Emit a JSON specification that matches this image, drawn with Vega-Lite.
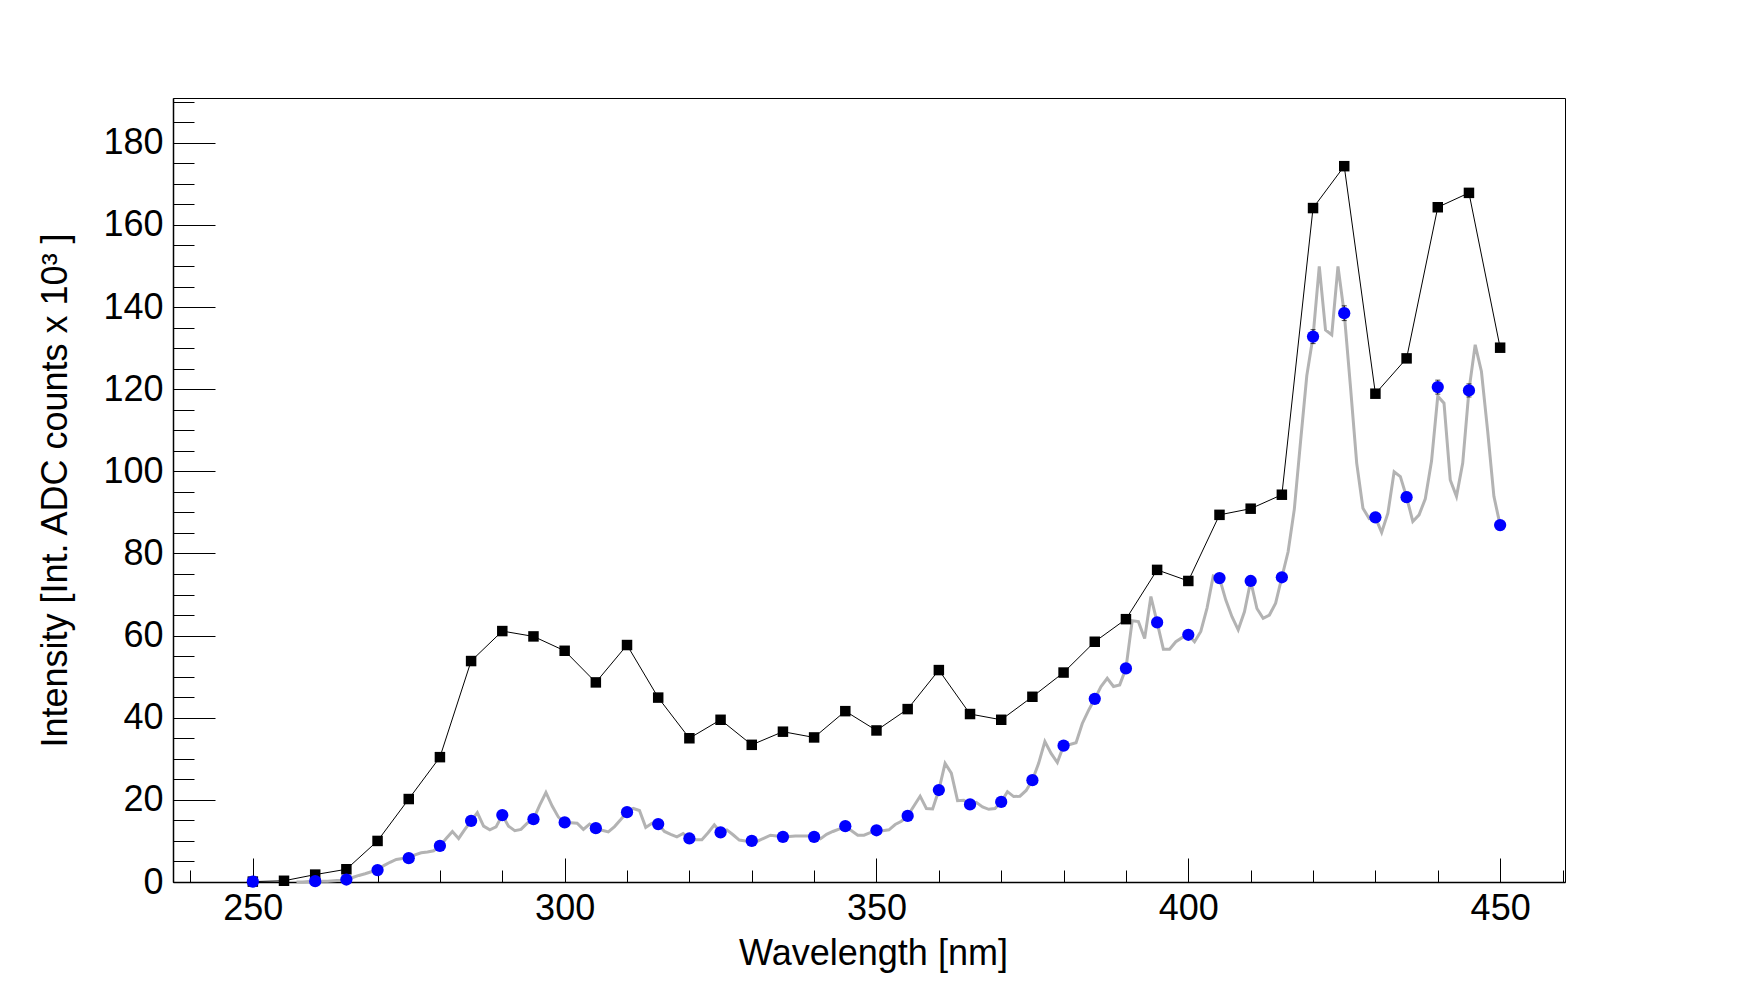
{
  "$schema": "https://vega.github.io/schema/vega-lite/v6.json",
  "width": 1392,
  "height": 784,
  "autosize": {"type": "none"},
  "padding": {"left": 173, "top": 98, "right": 174, "bottom": 99},
  "background": "white",
  "datasets": {
    "spectrum": [
      {"nm": 257, "v": 0}, {"nm": 258, "v": 0}, {"nm": 259, "v": 0.1}, {"nm": 260, "v": 0.2},
      {"nm": 261, "v": 0.2}, {"nm": 262, "v": 0.2}, {"nm": 263, "v": 0.3}, {"nm": 264, "v": 0.4},
      {"nm": 265, "v": 0.6}, {"nm": 266, "v": 1.1}, {"nm": 267, "v": 1.6}, {"nm": 268, "v": 2.0},
      {"nm": 269, "v": 2.5}, {"nm": 270, "v": 2.9}, {"nm": 271, "v": 4.0}, {"nm": 272, "v": 4.8},
      {"nm": 273, "v": 5.5}, {"nm": 274, "v": 5.7}, {"nm": 275, "v": 5.8}, {"nm": 276, "v": 6.6},
      {"nm": 277, "v": 7.1}, {"nm": 278, "v": 7.3}, {"nm": 279, "v": 7.6}, {"nm": 280, "v": 8.8},
      {"nm": 281, "v": 10.6}, {"nm": 282, "v": 12.3}, {"nm": 283, "v": 10.6}, {"nm": 284, "v": 12.8},
      {"nm": 285, "v": 14.9}, {"nm": 286, "v": 16.9}, {"nm": 287, "v": 13.6}, {"nm": 288, "v": 12.7},
      {"nm": 289, "v": 13.4}, {"nm": 290, "v": 16.3}, {"nm": 291, "v": 13.6}, {"nm": 292, "v": 12.5},
      {"nm": 293, "v": 12.8}, {"nm": 294, "v": 14.3}, {"nm": 295, "v": 15.3}, {"nm": 296, "v": 18.7},
      {"nm": 297, "v": 21.8}, {"nm": 298, "v": 18.5}, {"nm": 299, "v": 15.8}, {"nm": 300, "v": 14.5},
      {"nm": 301, "v": 14.4}, {"nm": 302, "v": 14.3}, {"nm": 303, "v": 12.8}, {"nm": 304, "v": 14.1},
      {"nm": 305, "v": 13.1}, {"nm": 306, "v": 12.6}, {"nm": 307, "v": 12.2}, {"nm": 308, "v": 13.5},
      {"nm": 309, "v": 15.2}, {"nm": 310, "v": 17.0}, {"nm": 311, "v": 17.9}, {"nm": 312, "v": 17.4},
      {"nm": 313, "v": 13.3}, {"nm": 314, "v": 14.3}, {"nm": 315, "v": 14.1}, {"nm": 316, "v": 12.3},
      {"nm": 317, "v": 11.6}, {"nm": 318, "v": 11.0}, {"nm": 319, "v": 11.8}, {"nm": 320, "v": 10.6},
      {"nm": 321, "v": 10.3}, {"nm": 322, "v": 10.3}, {"nm": 323, "v": 12.0}, {"nm": 324, "v": 13.9},
      {"nm": 325, "v": 12.1}, {"nm": 326, "v": 12.7}, {"nm": 327, "v": 11.5}, {"nm": 328, "v": 10.2},
      {"nm": 329, "v": 10.0}, {"nm": 330, "v": 10.0}, {"nm": 331, "v": 10.0}, {"nm": 332, "v": 10.7},
      {"nm": 333, "v": 11.4}, {"nm": 334, "v": 11.2}, {"nm": 335, "v": 11.0}, {"nm": 336, "v": 11.1},
      {"nm": 337, "v": 11.2}, {"nm": 338, "v": 11.2}, {"nm": 339, "v": 11.2}, {"nm": 340, "v": 11.0},
      {"nm": 341, "v": 10.5}, {"nm": 342, "v": 11.6}, {"nm": 343, "v": 12.3}, {"nm": 344, "v": 12.9},
      {"nm": 345, "v": 13.5}, {"nm": 346, "v": 12.5}, {"nm": 347, "v": 11.4}, {"nm": 348, "v": 11.4},
      {"nm": 349, "v": 12.0}, {"nm": 350, "v": 12.6}, {"nm": 351, "v": 12.5}, {"nm": 352, "v": 12.7},
      {"nm": 353, "v": 14.0}, {"nm": 354, "v": 14.8}, {"nm": 355, "v": 16.1}, {"nm": 356, "v": 18.5},
      {"nm": 357, "v": 20.9}, {"nm": 358, "v": 17.9}, {"nm": 359, "v": 17.8}, {"nm": 360, "v": 22.4},
      {"nm": 361, "v": 28.9}, {"nm": 362, "v": 26.5}, {"nm": 363, "v": 19.8}, {"nm": 364, "v": 19.9},
      {"nm": 365, "v": 18.9}, {"nm": 366, "v": 19.4}, {"nm": 367, "v": 18.3}, {"nm": 368, "v": 17.7},
      {"nm": 369, "v": 17.9}, {"nm": 370, "v": 19.5}, {"nm": 371, "v": 22.0}, {"nm": 372, "v": 20.8},
      {"nm": 373, "v": 20.9}, {"nm": 374, "v": 22.3}, {"nm": 375, "v": 24.8}, {"nm": 376, "v": 28.9},
      {"nm": 377, "v": 34.2}, {"nm": 378, "v": 31.3}, {"nm": 379, "v": 29.1}, {"nm": 380, "v": 33.2},
      {"nm": 381, "v": 33.5}, {"nm": 382, "v": 33.9}, {"nm": 383, "v": 38.6}, {"nm": 384, "v": 41.8},
      {"nm": 385, "v": 44.6}, {"nm": 386, "v": 47.6}, {"nm": 387, "v": 49.6}, {"nm": 388, "v": 47.6},
      {"nm": 389, "v": 48.0}, {"nm": 390, "v": 52.0}, {"nm": 391, "v": 63.6}, {"nm": 392, "v": 63.4},
      {"nm": 393, "v": 59.3}, {"nm": 394, "v": 69.5}, {"nm": 395, "v": 63.2}, {"nm": 396, "v": 56.7},
      {"nm": 397, "v": 56.7}, {"nm": 398, "v": 58.5}, {"nm": 399, "v": 59.5}, {"nm": 400, "v": 60.2},
      {"nm": 401, "v": 58.5}, {"nm": 402, "v": 61.0}, {"nm": 403, "v": 66.7}, {"nm": 404, "v": 74.5},
      {"nm": 405, "v": 74.0}, {"nm": 406, "v": 68.7}, {"nm": 407, "v": 64.6}, {"nm": 408, "v": 61.4},
      {"nm": 409, "v": 65.8}, {"nm": 410, "v": 73.3}, {"nm": 411, "v": 66.6}, {"nm": 412, "v": 64.2},
      {"nm": 413, "v": 65.0}, {"nm": 414, "v": 67.9}, {"nm": 415, "v": 74.2}, {"nm": 416, "v": 80.4},
      {"nm": 417, "v": 90.8}, {"nm": 418, "v": 107.3}, {"nm": 419, "v": 123.3}, {"nm": 420, "v": 132.8},
      {"nm": 421, "v": 149.9}, {"nm": 422, "v": 134.4}, {"nm": 423, "v": 133.2}, {"nm": 424, "v": 149.9},
      {"nm": 425, "v": 138.5}, {"nm": 426, "v": 120.6}, {"nm": 427, "v": 102.0}, {"nm": 428, "v": 91.0},
      {"nm": 429, "v": 88.5}, {"nm": 430, "v": 88.8}, {"nm": 431, "v": 85.1}, {"nm": 432, "v": 89.8},
      {"nm": 433, "v": 99.9}, {"nm": 434, "v": 98.7}, {"nm": 435, "v": 93.7}, {"nm": 436, "v": 87.8},
      {"nm": 437, "v": 89.4}, {"nm": 438, "v": 93.3}, {"nm": 439, "v": 102.5}, {"nm": 440, "v": 118.3},
      {"nm": 441, "v": 116.6}, {"nm": 442, "v": 97.9}, {"nm": 443, "v": 93.9}, {"nm": 444, "v": 102.0},
      {"nm": 445, "v": 119.7}, {"nm": 446, "v": 130.8}, {"nm": 447, "v": 124.3}, {"nm": 448, "v": 109.8},
      {"nm": 449, "v": 93.9}, {"nm": 450, "v": 86.9}
    ],
    "reference": [
      {"nm": 250, "v": 0.1}, {"nm": 255, "v": 0.3}, {"nm": 260, "v": 1.8}, {"nm": 265, "v": 3.1},
      {"nm": 270, "v": 10.0}, {"nm": 275, "v": 20.2}, {"nm": 280, "v": 30.4}, {"nm": 285, "v": 53.8},
      {"nm": 290, "v": 61.1}, {"nm": 295, "v": 59.8}, {"nm": 300, "v": 56.3}, {"nm": 305, "v": 48.6},
      {"nm": 310, "v": 57.7}, {"nm": 315, "v": 44.9}, {"nm": 320, "v": 35.0}, {"nm": 325, "v": 39.5},
      {"nm": 330, "v": 33.4}, {"nm": 335, "v": 36.6}, {"nm": 340, "v": 35.2}, {"nm": 345, "v": 41.6},
      {"nm": 350, "v": 36.9}, {"nm": 355, "v": 42.1}, {"nm": 360, "v": 51.6}, {"nm": 365, "v": 40.9},
      {"nm": 370, "v": 39.5}, {"nm": 375, "v": 45.1}, {"nm": 380, "v": 51.0}, {"nm": 385, "v": 58.5},
      {"nm": 390, "v": 64.0}, {"nm": 395, "v": 76.0}, {"nm": 400, "v": 73.3}, {"nm": 405, "v": 89.4},
      {"nm": 410, "v": 90.9}, {"nm": 415, "v": 94.3}, {"nm": 420, "v": 164.1}, {"nm": 425, "v": 174.3},
      {"nm": 430, "v": 118.9}, {"nm": 435, "v": 127.5}, {"nm": 440, "v": 164.3}, {"nm": 445, "v": 167.8},
      {"nm": 450, "v": 130.1}
    ],
    "measured": [
      {"nm": 250, "v": 0.1, "err": 0.1}, {"nm": 260, "v": 0.2, "err": 0.1}, {"nm": 265, "v": 0.6, "err": 0.1},
      {"nm": 270, "v": 2.9, "err": 0.2}, {"nm": 275, "v": 5.8, "err": 0.2}, {"nm": 280, "v": 8.8, "err": 0.3},
      {"nm": 285, "v": 14.9, "err": 0.4}, {"nm": 290, "v": 16.3, "err": 0.4}, {"nm": 295, "v": 15.3, "err": 0.4},
      {"nm": 300, "v": 14.5, "err": 0.4}, {"nm": 305, "v": 13.1, "err": 0.4}, {"nm": 310, "v": 17.0, "err": 0.4},
      {"nm": 315, "v": 14.1, "err": 0.4}, {"nm": 320, "v": 10.6, "err": 0.3}, {"nm": 325, "v": 12.1, "err": 0.3},
      {"nm": 330, "v": 10.0, "err": 0.3}, {"nm": 335, "v": 11.0, "err": 0.3}, {"nm": 340, "v": 11.0, "err": 0.3},
      {"nm": 345, "v": 13.6, "err": 0.4}, {"nm": 350, "v": 12.6, "err": 0.4}, {"nm": 355, "v": 16.1, "err": 0.4},
      {"nm": 360, "v": 22.4, "err": 0.5}, {"nm": 365, "v": 18.9, "err": 0.5}, {"nm": 370, "v": 19.5, "err": 0.5},
      {"nm": 375, "v": 24.8, "err": 0.5}, {"nm": 380, "v": 33.2, "err": 0.6}, {"nm": 385, "v": 44.6, "err": 0.7},
      {"nm": 390, "v": 52.0, "err": 0.8}, {"nm": 395, "v": 63.2, "err": 0.9}, {"nm": 400, "v": 60.2, "err": 0.9},
      {"nm": 405, "v": 74.0, "err": 1.0}, {"nm": 410, "v": 73.3, "err": 1.0}, {"nm": 415, "v": 74.2, "err": 1.0},
      {"nm": 420, "v": 132.8, "err": 1.7}, {"nm": 425, "v": 138.5, "err": 1.8}, {"nm": 430, "v": 88.8, "err": 1.2},
      {"nm": 435, "v": 93.7, "err": 1.2}, {"nm": 440, "v": 120.5, "err": 1.7}, {"nm": 445, "v": 119.7, "err": 1.6},
      {"nm": 450, "v": 86.9, "err": 1.1}
    ]
  },
  "encoding": {
    "x": {
      "field": "nm",
      "type": "quantitative",
      "scale": {"domain": [237.2, 460.4], "nice": false, "zero": false},
      "axis": {
        "title": "Wavelength [nm]",
        "values": [240, 250, 260, 270, 280, 290, 300, 310, 320, 330, 340, 350, 360, 370, 380, 390, 400, 410, 420, 430, 440, 450, 460],
        "labelExpr": "datum.value % 50 === 0 ? datum.label : ''",
        "tickSize": {"condition": {"test": "datum.value % 50 === 0", "value": -24}, "value": -12},
        "labelPadding": 33,
        "labelBaseline": "top",
        "titleX": 700,
        "titleY": 82,
        "titleBaseline": "alphabetic",
        "titleAnchor": "middle"
      }
    },
    "y": {
      "field": "v",
      "type": "quantitative",
      "scale": {"domain": [0, 190.9], "nice": false},
      "axis": {
        "title": "Intensity [Int. ADC counts x 10³ ]",
        "values": [0, 5, 10, 15, 20, 25, 30, 35, 40, 45, 50, 55, 60, 65, 70, 75, 80, 85, 90, 95, 100, 105, 110, 115, 120, 125, 130, 135, 140, 145, 150, 155, 160, 165, 170, 175, 180, 185, 190],
        "labelExpr": "datum.value % 20 === 0 ? datum.label : ''",
        "tickSize": {"condition": {"test": "datum.value % 20 === 0", "value": -42}, "value": -21},
        "labelPadding": 52,
        "labelBaseline": "middle",
        "titleAngle": -90,
        "titleX": -107,
        "titleY": 392,
        "titleAlign": "center",
        "titleBaseline": "alphabetic"
      }
    }
  },
  "layer": [
    {
      "data": {"name": "spectrum"},
      "mark": {"type": "line", "color": "#b3b3b3", "strokeWidth": 3, "strokeJoin": "miter"}
    },
    {
      "data": {"name": "reference"},
      "mark": {"type": "line", "color": "black", "strokeWidth": 1}
    },
    {
      "data": {"name": "reference"},
      "mark": {"type": "point", "shape": "square", "filled": true, "color": "black", "size": 110, "opacity": 1}
    },
    {
      "data": {"name": "measured"},
      "mark": {"type": "errorbar", "color": "black", "thickness": 1, "ticks": {"size": 5, "color": "black"}},
      "encoding": {"yError": {"field": "err"}}
    },
    {
      "data": {"name": "measured"},
      "mark": {"type": "point", "shape": "circle", "filled": true, "color": "#0000ff", "size": 150, "opacity": 1}
    }
  ],
  "config": {
    "view": {"stroke": "black", "strokeWidth": 1},
    "axis": {
      "grid": false,
      "domainColor": "black",
      "domainWidth": 1.5,
      "tickColor": "black",
      "tickWidth": 1,
      "labelColor": "black",
      "labelFont": "Liberation Sans",
      "labelFontSize": 36,
      "labelOverlap": false,
      "labelFlush": false,
      "titleColor": "black",
      "titleFont": "Liberation Sans",
      "titleFontSize": 36,
      "titleFontWeight": "normal"
    }
  }
}
